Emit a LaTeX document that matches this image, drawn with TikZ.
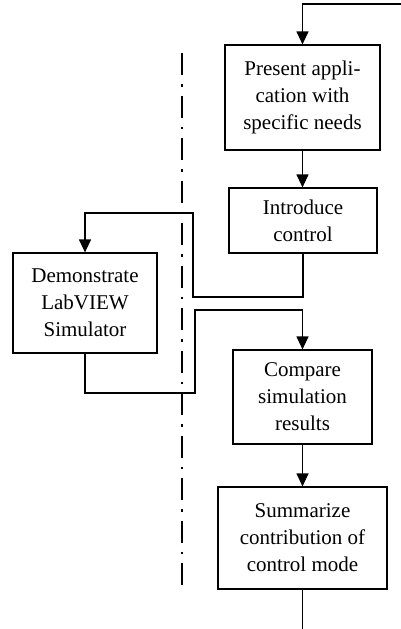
\documentclass[tikz,border=0pt]{standalone}
\usepackage{fontspec}
\setmainfont{Liberation Serif}
\usetikzlibrary{arrows.meta}
\begin{document}
\begin{tikzpicture}[x=1pt,y=1pt,
  box/.style={draw, line width=1.2pt, align=center, inner sep=0pt, font=\fontsize{21}{27}\selectfont},
  arr/.style={-{Triangle[length=13pt,width=12pt]}, line width=1.2pt},
  ln/.style={line width=1.2pt},
  sep/.style={line width=2.4pt, dash pattern=on 22pt off 9pt on 2.5pt off 9pt}]
\useasboundingbox (0,0) rectangle (401,-629);
\node[box, minimum width=155pt, minimum height=105pt] (present) at (302.5,-97.5) {Present appli-\\cation with\\specific needs};
\node[box, minimum width=148pt, minimum height=65pt] (intro) at (303,-220.5) {Introduce\\control};
\node[box, minimum width=144pt, minimum height=100pt] (demo) at (85,-303) {Demonstrate\\LabVIEW\\Simulator};
\node[box, minimum width=139pt, minimum height=94pt] (compare) at (302.5,-397) {Compare\\simulation\\results};
\node[box, minimum width=169pt, minimum height=102pt] (summ) at (302.5,-538) {Summarize\\contribution of\\control mode};
\coordinate (topin) at (401,-4);
\coordinate (endout) at (302.5,-629);
\coordinate (septop) at (182,-53);
\coordinate (sepbot) at (182,-593);
\draw[sep] (septop) -- (sepbot);
\draw[arr] (topin) -| (present.north);
\draw[arr] (present.south) -- (present.south |- intro.north);
\draw[arr] (intro.south) |- (193,-297) |- (85,-213) -- (demo.north);
\draw[arr] (demo.south) |- (195,-393) |- (302.5,-310) -- (compare.north);
\draw[arr] (compare.south) -- (summ.north);
\draw[ln] (summ.south) -- (endout);
\end{tikzpicture}
\end{document}
